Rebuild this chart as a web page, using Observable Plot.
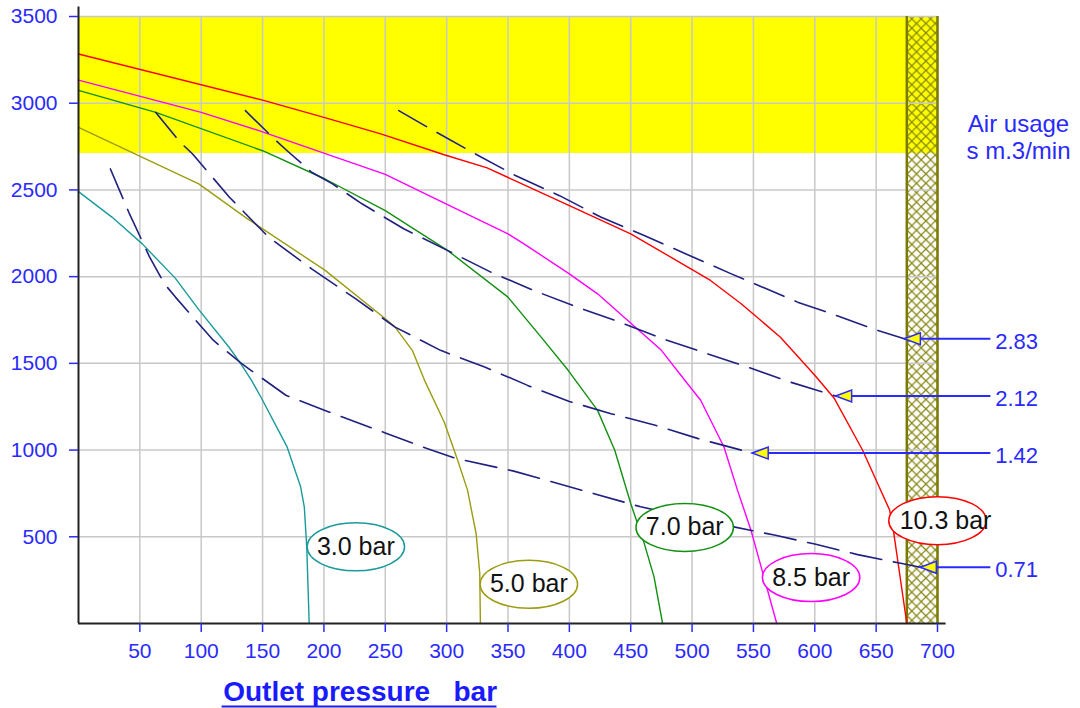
<!DOCTYPE html>
<html><head><meta charset="utf-8">
<script src="https://cdn.jsdelivr.net/npm/d3@7"></script>
<script src="https://cdn.jsdelivr.net/npm/@observablehq/plot@0.6"></script>
<style>
html,body{margin:0;padding:0;background:#fff;}
#chart svg{display:block;}
</style></head><body><div id="chart"></div>
<script>
// ---- ticks & zones ----
const xTicks = [50,100,150,200,250,300,350,400,450,500,550,600,650,700];
const yTicks = [500,1000,1500,2000,2500,3000,3500];
const hatchBand = [675, 700];
const yellowZone = [2710, 3500];

// ---- outlet pressure curves ----
const curveNames = ["3.0 bar","5.0 bar","7.0 bar","8.5 bar","10.3 bar"];
const curveColors = ["#1a9a9a","#9c9c10","#129012","#ff00ff","#ff0000"];
const c30x = [0,27.5,52,79,98,123,133,141,148.6,170,181,184,186,188];
const c30y = [2490,2342,2189,1990,1810,1590,1490,1402,1306,1018,788,673,442,0];
const c50x = [0,49,98,136,201,250,258,272,282,298,309,317,324,327,327.5];
const c50y = [2861,2698,2535,2342,2036,1757,1709,1575,1402,1162,941,769,519,289,0];
const c70x = [0,63,150,201,250,301,350,377,399,423,437,450,461,469,476];
const c70y = [3074,2947,2726,2563,2381,2150,1882,1651,1460,1229,999,692,462,269,0];
const c85x = [0,100,147,250,294,350,363,400,423,449,475,496,507,526,537,548,557,569];
const c85y = [3133,2947,2842,2590,2439,2247,2189,2016,1901,1738,1575,1385,1287,1018,769,538,308,0];
const c103x = [0,150,200,247,298,333,400,450,499,515,540,572,600,616,639,650,661,664,675];
const c103y = [3284,3018,2918,2822,2703,2627,2410,2247,2045,1978,1844,1651,1431,1297,999,826,654,540,0];
const labelX = [226,367,494,597,700];
const labelY = [442,226,554,265,593];

// ---- air usage lines ----
const airNames = ["0.71","1.42","2.12","2.83"];
const a071x = [26,41,58,70,79,110,133,169,204,250,284,308,354,415,458,534,567,600,635,670,686];
const a071y = [2621,2371,2112,1959,1882,1632,1498,1316,1220,1099,1009,951,880,759,673,557,510,458,397,347,324];
const a142x = [63,83,93,123,155,190,226,258,295,331,366,400,434,470,505,549];
const a142y = [2947,2774,2707,2458,2227,2045,1872,1709,1575,1479,1373,1280,1210,1143,1066,983];
const a212x = [136,161,170,190,207,231,265,301,336,371,405,441,476,511,545,580,617];
const a212y = [2957,2784,2726,2602,2535,2420,2276,2150,2026,1920,1828,1738,1642,1559,1479,1392,1312];
const a283x = [261,287,321,356,392,426,461,496,532,586,610,647,673];
const a283y = [2957,2851,2717,2583,2467,2342,2237,2128,2016,1853,1795,1700,1642];
const arrowTipX = [686,549,617,673];
const arrowTipY = [324,983,1312,1642];

// ---- layout constants ----
const arrowEndX = 743.5, arrowTextX = 747;
const titleX = 229.5, titleY = -398, underlineY = -478, underlineX = [117, 341];
const blue = "#2a2aff", navy = "#202080", olive = "#7a7a00";

const zip = (xs, ys) => xs.map((x, i) => ({x, y: ys[i]}));
const curves = [[c30x,c30y],[c50x,c50y],[c70x,c70y],[c85x,c85y],[c103x,c103y]]
  .map(([xs, ys], i) => ({name: curveNames[i], color: curveColors[i], pts: zip(xs, ys),
    lx: labelX[i], ly: labelY[i]}));
const airLines = [[a071x,a071y],[a142x,a142y],[a212x,a212y],[a283x,a283y]].map(([xs,ys]) => zip(xs, ys));
const arrows = airNames.map((name, i) => ({name, x: arrowTipX[i], y: arrowTipY[i]}));

const ellipseSymbol = {draw(ctx, size) {
  const r = Math.sqrt(size / Math.PI), rx = r * 2.03, ry = r, k = 0.5523;
  ctx.moveTo(rx, 0);
  ctx.bezierCurveTo(rx, ry*k, rx*k, ry, 0, ry);
  ctx.bezierCurveTo(-rx*k, ry, -rx, ry*k, -rx, 0);
  ctx.bezierCurveTo(-rx, -ry*k, -rx*k, -ry, 0, -ry);
  ctx.bezierCurveTo(rx*k, -ry, rx, -ry*k, rx, 0);
  ctx.closePath();
}};
const arrowSymbol = {draw(ctx, size) {
  ctx.moveTo(0, 0); ctx.lineTo(16, -6); ctx.lineTo(16, 6); ctx.closePath();
}};

const marks = [
  Plot.rect([yellowZone], {x1: () => 0, x2: () => 700, y1: d => d[0], y2: d => d[1], fill: "#ffff00"}),
  Plot.rect([hatchBand], {x1: d => d[0], x2: d => d[1], y1: () => 0, y2: () => 3500, fill: "url(#xhatch)"}),
  Plot.gridX(xTicks, {stroke: "#c8c8c8", strokeOpacity: 1, strokeWidth: 1.5}),
  Plot.gridY(yTicks, {stroke: "#c8c8c8", strokeOpacity: 1, strokeWidth: 1.5}),
  Plot.ruleX(hatchBand, {stroke: olive, strokeWidth: 2.5}),
  ...curves.map(c => Plot.line(c.pts, {x: "x", y: "y", stroke: c.color, strokeWidth: 1.4})),
  ...airLines.map(pts => Plot.line(pts, {x: "x", y: "y", stroke: navy, strokeWidth: 1.6, strokeDasharray: "32,12"})),
  ...curves.map(c => Plot.dot([c], {x: "lx", y: "ly", r: 24, symbol: ellipseSymbol, fill: "white", stroke: c.color, strokeWidth: 1.5})),
  ...curves.map((c, i) => Plot.text([c], {x: "lx", y: "ly", text: "name", fill: "#111", fontSize: 25, dx: i === 4 ? 8 : 0})),
  Plot.ruleY(arrows, {y: "y", x1: "x", x2: () => arrowEndX, stroke: blue, strokeWidth: 2}),
  Plot.dot(arrows, {x: "x", y: "y", symbol: arrowSymbol, r: 5, fill: "#ffff00", stroke: blue, strokeWidth: 1.5}),
  Plot.text(arrows, {x: () => arrowTextX, y: "y", text: "name", textAnchor: "start", dy: 3, fill: blue, fontSize: 22}),
  Plot.ruleX([0], {y1: 0, y2: 3555, stroke: "#222", strokeWidth: 2}),
  Plot.ruleY([0], {x1: 0, x2: 707, stroke: "#222", strokeWidth: 2}),
  Plot.axisY(yTicks, {tickSize: 9, tickPadding: 12, color: blue, fontSize: 21, label: null, strokeWidth: 1.5, tickFormat: d => String(d)}),
  Plot.axisX(xTicks, {tickSize: 9, tickPadding: 11, color: blue, fontSize: 21, label: null, strokeWidth: 1.5, tickFormat: d => String(d)}),
  Plot.text(["Outlet pressure\u00a0\u00a0\u00a0bar"], {x: () => titleX, y: () => titleY, text: d => d,
    fontWeight: "bold", fontSize: 28, fill: "#1a1aff"}),
  Plot.ruleY([underlineY], {x1: () => underlineX[0], x2: () => underlineX[1], stroke: "#1a1aff", strokeWidth: 2}),
  Plot.text(["Air usage\ns m.3/min"], {x: () => 766, y: () => 2805, text: d => d,
    fontSize: 24, lineHeight: 1.1, fill: blue})
];

const chart = Plot.plot({
  width: 1080, height: 708,
  marginLeft: 78, marginRight: 143, marginTop: 16, marginBottom: 85,
  x: {domain: [0, 700]},
  y: {domain: [0, 3500]},
  style: {fontFamily: "'Liberation Sans', Arial, sans-serif", fontSize: "21px", background: "white", overflow: "visible"},
  marks
});

const svg = d3.select(chart);
const pat = svg.insert("defs", ":first-child").append("pattern")
  .attr("id", "xhatch").attr("patternUnits", "userSpaceOnUse")
  .attr("width", 9.4).attr("height", 9.4);
pat.append("path").attr("d", "M0,0L9.4,9.4M9.4,0L0,9.4")
  .attr("stroke", "#858510").attr("stroke-width", 1.2).attr("fill", "none");
document.getElementById("chart").appendChild(chart);
</script></body></html>
